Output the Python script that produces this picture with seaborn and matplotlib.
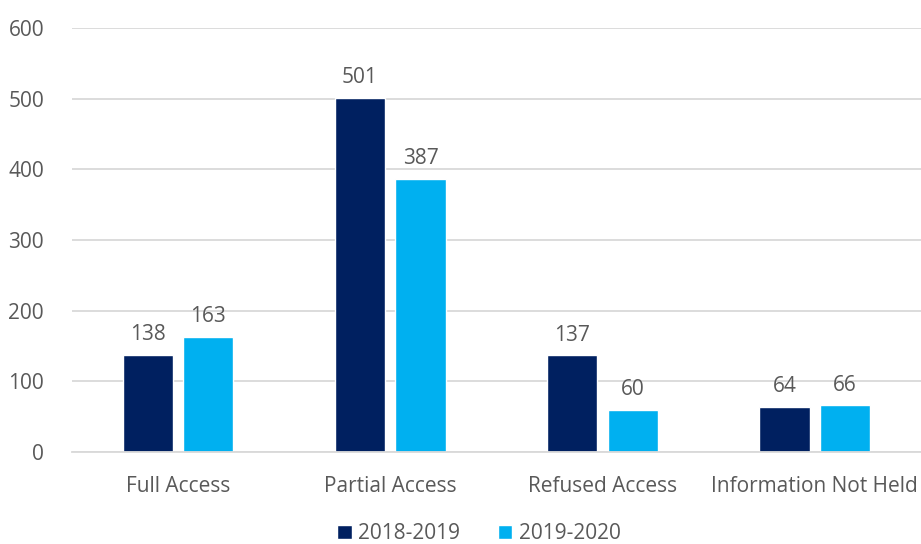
import pandas as pd
import matplotlib.pyplot as plt
import seaborn as sns

# --- DATOS ---
categorias = ['Full Access', 'Partial Access', 'Refused Access', 'Information Not Held']
periodos = ['2018-2019', '2019-2020']
valores_2018_2019 = [138, 501, 137, 64]
valores_2019_2020 = [163, 387, 60, 66]

df = pd.DataFrame({
    'Categoria': categorias * 2,
    'Periodo': [periodos[0]] * len(categorias) + [periodos[1]] * len(categorias),
    'Valor': valores_2018_2019 + valores_2019_2020,
})

# --- ESTILO ---
sns.set_style("white")
plt.rcParams['font.family'] = ['Open Sans', 'DejaVu Sans']
gris_texto = '#595959'
colores = ['#002060', '#00B0F0']

fig = plt.figure(figsize=(9.21, 5.44), dpi=100)
ax = fig.add_axes([0.078, 0.169, 0.922, 0.7795])

sns.barplot(data=df, x='Categoria', y='Valor', hue='Periodo', order=categorias,
            hue_order=periodos, palette=colores, width=0.57, gap=0.17,
            saturation=1, ax=ax, legend=True)

for cont in ax.containers:
    ax.bar_label(cont, padding=7, fontsize=15, color=gris_texto)

ax.set_ylim(0, 600)
ax.set_xlim(-0.5, 3.5)
ax.set_yticks(range(0, 601, 100))
ax.yaxis.grid(True, color='#D9D9D9', linewidth=1.3)
ax.set_axisbelow(True)
ax.set_xlabel('')
ax.set_ylabel('')
ax.tick_params(axis='both', length=0, labelsize=15, colors=gris_texto)
ax.tick_params(axis='x', pad=17)
ax.tick_params(axis='y', pad=20)
for lado in ['left', 'right', 'top']:
    ax.spines[lado].set_visible(False)
ax.spines['bottom'].set_color('#D9D9D9')
ax.spines['bottom'].set_linewidth(1.3)

handles, labels = ax.get_legend_handles_labels()
ax.get_legend().remove()
fig.legend(handles, labels, loc='lower center', bbox_to_anchor=(0.52, -0.035),
           ncol=2, frameon=False, fontsize=15, labelcolor=gris_texto,
           handlelength=0.7, handleheight=0.7, handletextpad=0.3, columnspacing=1.8)

plt.savefig('out.png', dpi=100)
plt.close()
